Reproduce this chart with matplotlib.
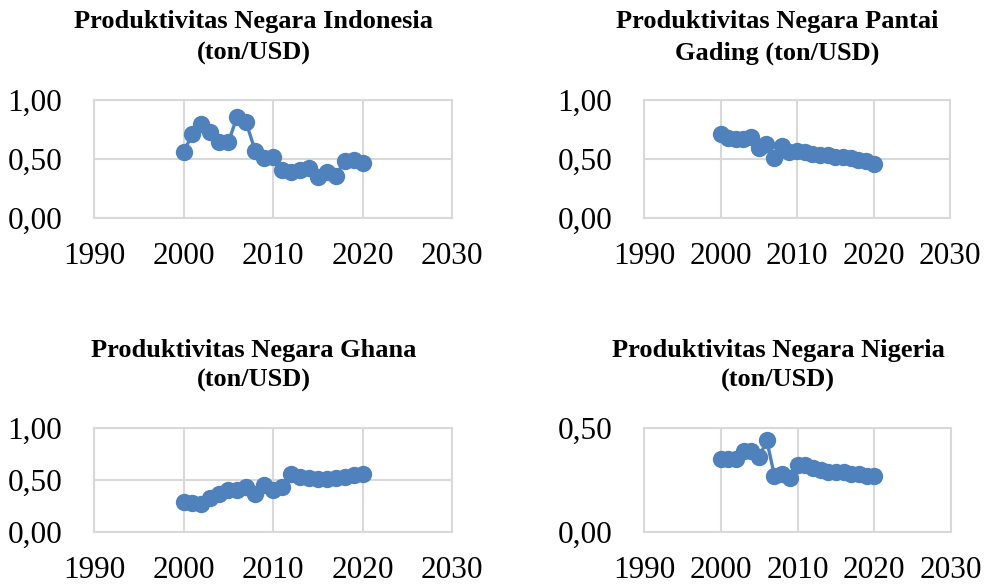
import matplotlib
matplotlib.use("Agg")
import matplotlib.pyplot as plt
from matplotlib.ticker import FuncFormatter

years = list(range(2000, 2021))

indonesia = [0.56, 0.71, 0.80, 0.73, 0.64, 0.64, 0.86, 0.81, 0.57, 0.51, 0.52,
             0.41, 0.39, 0.41, 0.42, 0.35, 0.39, 0.36, 0.48, 0.49, 0.47]
pantai_gading = [0.71, 0.68, 0.67, 0.67, 0.69, 0.59, 0.63, 0.51, 0.61, 0.56, 0.57,
                 0.56, 0.54, 0.53, 0.53, 0.52, 0.52, 0.51, 0.49, 0.48, 0.46]
ghana = [0.29, 0.28, 0.27, 0.33, 0.37, 0.40, 0.40, 0.43, 0.37, 0.45, 0.40,
         0.43, 0.56, 0.53, 0.52, 0.51, 0.51, 0.52, 0.53, 0.55, 0.56]
nigeria = [0.35, 0.35, 0.35, 0.39, 0.39, 0.36, 0.44, 0.27, 0.28, 0.26, 0.32,
           0.32, 0.31, 0.30, 0.29, 0.29, 0.29, 0.28, 0.28, 0.27, 0.27]

titles = [
    ("Produktivitas Negara Indonesia", "(ton/USD)"),
    ("Produktivitas Negara Pantai", "Gading (ton/USD)"),
    ("Produktivitas Negara Ghana", "(ton/USD)"),
    ("Produktivitas Negara Nigeria", "(ton/USD)"),
]
series = [indonesia, pantai_gading, ghana, nigeria]
x_ticks = [1990, 2000, 2010, 2020, 2030]
y_ticks_list = [[0.0, 0.5, 1.0], [0.0, 0.5, 1.0], [0.0, 0.5, 1.0], [0.0, 0.5]]

W, H = 986, 584
fig = plt.figure(figsize=(W / 100, H / 100), dpi=100)
plt.rcParams['font.family'] = ['Liberation Serif', 'DejaVu Serif']

# axes boxes in pixels: left, top, right, bottom
boxes = [(94, 100, 452, 218), (644, 100, 950, 218),
         (94, 428, 452, 532), (644, 428, 951, 532)]
title_cx = [254, 777, 254, 778]
title_base = [(28, 60), (28, 60), (357, 387), (357, 387)]

color = '#4F81BD'
grid_c = '#D9D9D9'
fmt = FuncFormatter(lambda v, p: f"{v:.2f}".replace('.', ','))

for i in range(4):
    l, t, r, b = boxes[i]
    ax = fig.add_axes([l / W, (H - b) / H, (r - l) / W, (b - t) / H])
    ax.plot(years, series[i], color=color, lw=2.4, marker='o', ms=12.5,
            markeredgewidth=0, zorder=3, clip_on=False)
    ax.set_xlim(1990, 2030)
    yt = y_ticks_list[i]
    ax.set_ylim(yt[0], yt[-1])
    ax.set_xticks(x_ticks)
    ax.set_yticks(yt)
    ax.yaxis.set_major_formatter(fmt)
    ax.grid(True, color=grid_c, lw=1.5, zorder=0)
    for s in ax.spines.values():
        s.set_color(grid_c)
        s.set_linewidth(1.5)
    ax.tick_params(length=0, labelsize=22.5)
    ax.tick_params(axis='y', pad=23)
    ax.tick_params(axis='x', pad=17)
    l1, l2 = titles[i]
    b1, b2 = title_base[i]
    fig.text(title_cx[i] / W, (H - b1) / H, l1, ha='center', va='baseline',
             fontsize=19, fontweight='bold')
    fig.text(title_cx[i] / W, (H - b2) / H, l2, ha='center', va='baseline',
             fontsize=19, fontweight='bold')

fig.savefig('out.png', dpi=100, facecolor='white')
